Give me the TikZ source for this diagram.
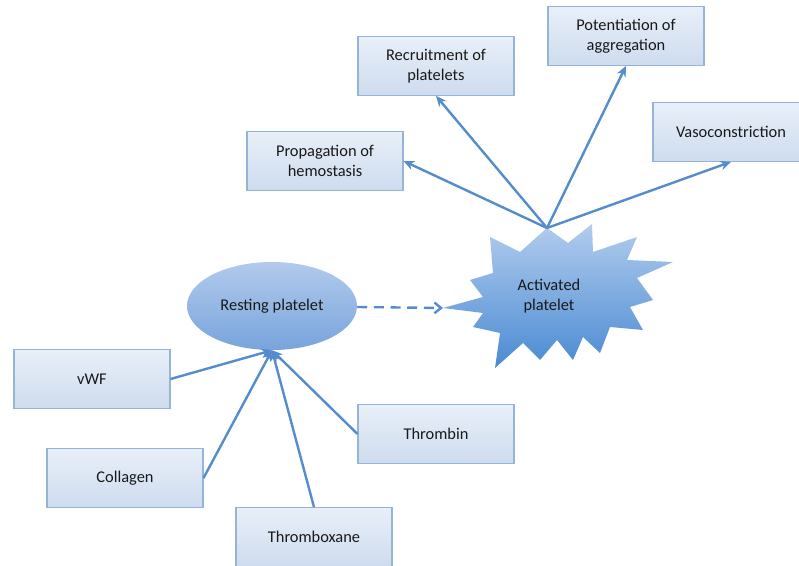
\documentclass[tikz,border=0pt]{standalone}
\usepackage{fontspec}
\setmainfont{Carlito}
\usetikzlibrary{arrows.meta,calc,positioning,shapes.geometric}
\definecolor{boxline}{RGB}{150,180,216}
\definecolor{boxtop}{RGB}{232,239,248}
\definecolor{boxbot}{RGB}{206,220,239}
\definecolor{arrowblue}{RGB}{86,140,204}
\definecolor{ovaltop}{RGB}{178,202,236}
\definecolor{ovalbot}{RGB}{120,164,220}
\definecolor{startop}{RGB}{178,204,238}
\definecolor{starbot}{RGB}{74,138,210}
\definecolor{textgray}{RGB}{25,25,25}

\begin{document}
\begin{tikzpicture}[x=0.75pt,y=-0.75pt,
    effect/.style={draw=boxline, line width=0.8pt, top color=boxtop, bottom color=boxbot,
        minimum width=117pt, minimum height=44pt, align=center, text=textgray,
        font=\fontsize{12.3}{15}\selectfont},
    link/.style={draw=arrowblue, line width=1.8pt, -{Stealth[length=8pt,width=7pt]}}]
                \useasboundingbox (0,0) rectangle (799,566);
                % top row: what the activated platelet does
                \node[effect] (prop) at (325,161) {Propagation of\\hemostasis};
                \node[effect] (recr) at (436,66) {Recruitment of\\platelets};
                \node[effect] (pote) at (626,36) {Potentiation of\\aggregation};
                \node[effect] (vaso) at (731,132) {Vasoconstriction};
                % bottom row: agonists
                \node[effect] (vwf) at (92,379) {vWF};
                \node[effect] (coll) at (125,478) {Collagen};
                \node[effect] (txa) at (314,537) {Thromboxane};
                \node[effect] (thr) at (436,434) {Thrombin};
                % resting platelet
                \node[ellipse, top color=ovaltop, bottom color=ovalbot,
                    minimum width=127.5pt, minimum height=66pt, text=textgray,
                    font=\fontsize{12.3}{15}\selectfont] (rest) at (272,306) {Resting platelet};
                % activated platelet
                \coordinate (tip) at (547,228);
                \coordinate (left) at (443,308);
                \shade[top color=startop, bottom color=starbot] (tip) -- (568,243) -- (592,224) -- (593,252)
                    -- (637,237) -- (627,260) -- (673,262) -- (637,278) -- (653,300) -- (630,307)
                    -- (643,330) -- (610,327) -- (600,353) -- (583,337) -- (573,360) -- (557,340)
                    -- (540,360) -- (523,343) -- (495,368) -- (500,333) -- (473,327) -- (483,313)
                    -- (left) -- (483,297) -- (470,280) -- (493,273) -- (490,237) -- (520,252) -- cycle;
                \node[align=center, text=textgray, font=\fontsize{12.3}{15}\selectfont] (act) at (549,296) {Activated\\platelet};
                \draw[draw=arrowblue, line width=1.8pt, dash pattern=on 7.5pt off 5pt,
                    -{Straight Barb[length=5pt,width=8pt]}] (rest) -- (left);
                % arrows
                \draw[link] (tip) -- (prop.east);
                \draw[link] (tip) -- (recr.south);
                \draw[link] (tip) -- (pote.south);
                \draw[link] (tip) -- (vaso.south);
                \draw[link] (vwf.east) -- (rest.south);
                \draw[link] (coll.east) -- (rest.south);
                \draw[link] (txa.north) -- (rest.south);
                \draw[link] (thr.west) -- (rest.south);
            \end{tikzpicture}
\end{document}
